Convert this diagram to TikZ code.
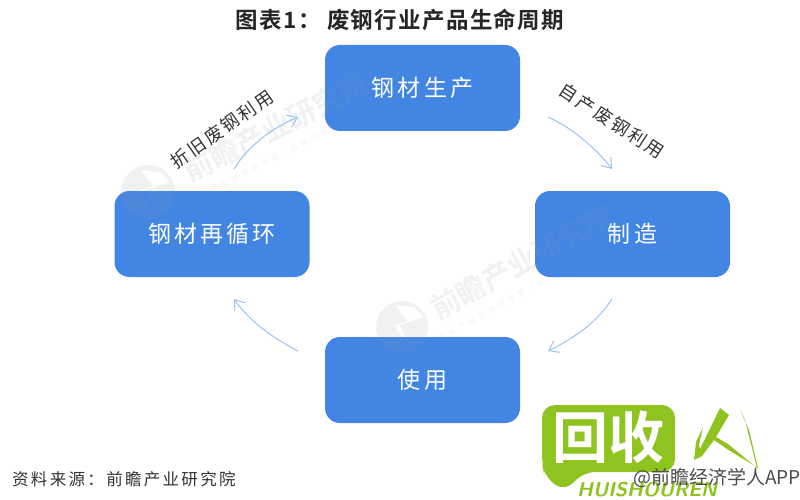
\documentclass[tikz,border=0pt]{standalone}
\usepackage{fontspec}
\usetikzlibrary{arrows.meta,bending}
\setmainfont{Noto Sans CJK SC}
\newfontfamily\boxfont[LetterSpace=14]{Noto Sans CJK SC}
\newfontfamily\lblfont[LetterSpace=14]{Noto Sans CJK SC}
\newfontfamily\smallfont[LetterSpace=40]{Noto Sans CJK SC}
\newfontfamily\footfont[LetterSpace=14]{Noto Sans CJK SC}
\newfontfamily\titlefont[LetterSpace=6]{Noto Sans CJK SC Bold}
\newfontfamily\heavyfont{Noto Sans CJK SC Bold}
\definecolor{boxblue}{HTML}{4285E3}
\definecolor{arrowblue}{HTML}{9CC2F2}
\definecolor{logogreen}{HTML}{8FC31F}
\definecolor{wm}{HTML}{8A97A8}
\tikzset{
  stagebox/.style={fill=boxblue,draw=none,rounded corners=15pt,minimum width=195pt,minimum height=86pt,inner sep=0pt,text=white,font=\boxfont\fontsize{23}{23}\selectfont},
  flow/.style={draw=arrowblue,line width=1pt,-{Straight Barb[length=9pt,width=13pt,bend]}},
  lbl/.style={text=black!80,inner sep=0pt,font=\lblfont\fontsize{18}{18}\selectfont},
  wmbig/.style={text=wm,opacity=.13,inner sep=0pt,font=\heavyfont\fontsize{29}{29}\selectfont},
  wmsmall/.style={text=wm,opacity=.10,inner sep=0pt,font=\smallfont\fontsize{8}{8}\selectfont},
  wmlogo/.style={fill=wm,opacity=.13,draw=none,even odd rule},
  logotext/.style={inner sep=0pt}
}
\begin{document}
\begin{tikzpicture}[x=1pt,y=-1pt]
\useasboundingbox (0,0) rectangle (800,500);
\fill[white] (0,0) rectangle (800,500);
% title
\node[inner sep=0pt,font=\titlefont\fontsize{22.5}{23}\selectfont,text=black!85] (title) at (400,20) {图表1： 废钢行业产品生命周期};
% boxes
\node[stagebox,text depth=0pt] (top) at (422.5,88) {\raisebox{2pt}{钢材生产}};
\node[stagebox] (left) at (212,234) {\raisebox{2pt}{钢材再循环}};
\node[stagebox] (right) at (632.5,234) {\raisebox{2pt}{制造}};
\node[stagebox] (bottom) at (422.5,380) {\raisebox{2pt}{使用}};
% watermarks
\fill[wmlogo] (148,192) circle (27) (141,170) -- (153,186) -- (140,190) -- (156,214) -- (146,190) -- (170,182) -- (160,172) -- cycle;
\node[wmbig,rotate=27] (wmA) at (276,127) {前瞻产业研究院};
\node[wmsmall,rotate=27] (wmAs) at (290,150) {中国产业咨询领导者（股票代码：839559）};
\fill[wmlogo] (402,327) circle (26) (395,305) -- (407,321) -- (394,325) -- (410,349) -- (400,325) -- (424,317) -- (414,307) -- cycle;
\node[wmbig,rotate=29] (wmB) at (522,262) {前瞻产业研究院};
\node[wmsmall,rotate=29] (wmBs) at (536,285) {中国产业咨询领导者（股票代码：839559）};
% connector ends
\coordinate (a1) at (548,117); \coordinate (a2) at (612,169);
\coordinate (b1) at (612,299); \coordinate (b2) at (548,351);
\coordinate (c1) at (298,351); \coordinate (c2) at (234,299);
\coordinate (d1) at (234,169); \coordinate (d2) at (298,117);
\draw[flow] (a1) .. controls (572,128) and (595,147) .. (a2);
\draw[flow] (b1) .. controls (597,322) and (575,338) .. (b2);
\draw[flow] (c1) .. controls (273,338) and (250,322) .. (c2);
\draw[flow] (d1) .. controls (249,145) and (272,128) .. (d2);
% labels
\node[lbl,rotate=35] (l1) at (222,129) {折旧废钢利用};
\node[lbl,rotate=-33] (l2) at (612,121) {自产废钢利用};
% footer
\node[inner sep=0pt,anchor=west,text=black!80,font=\footfont\fontsize{16.5}{17}\selectfont] (src) at (12,479) {资料来源：前瞻产业研究院};
% green logo
\fill[logogreen,rounded corners=13pt] (542,405) -- (675,405) -- (675,472) -- (582,472) -- (566,492) -- (545,478) -- (542,465) -- cycle;
\node[logotext,text=white,font=\heavyfont\fontsize{56}{56}\selectfont] (hui) at (608,437) {回收};
\fill[logogreen] (720,408) -- (729,415) -- (716,437) -- (728,444) -- (757,468) -- (745,420) -- (740,410) -- (749,430) -- (758,468) -- (727,449) -- (714,440) -- (702,456) -- (694,460) -- (696,442) -- (703,427) -- (699,445) -- (700,449) -- cycle;
\node[inner sep=0pt,anchor=west,text=logogreen,font=\sffamily\bfseries\itshape\fontsize{20}{20}\selectfont] (hr) at (577,490) {HUISHOUREN};
\node[inner sep=0pt,anchor=east,text=black!70,font=\fontsize{19}{19}\selectfont] (wb) at (801,478) {@前瞻经济学人APP};
\end{tikzpicture}
\end{document}
